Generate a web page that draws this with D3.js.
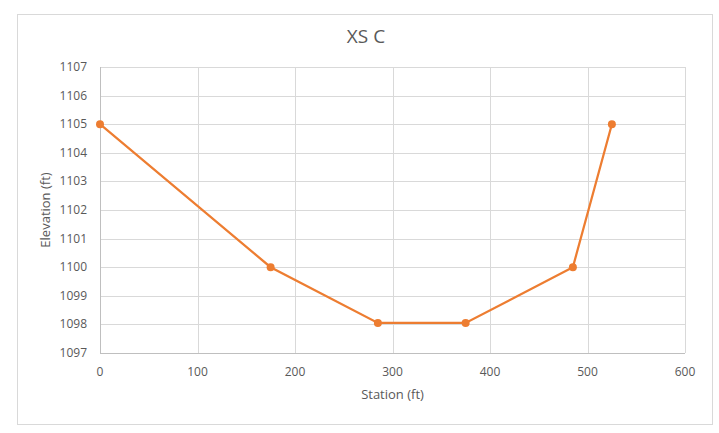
<!DOCTYPE html>
<html><head><meta charset="utf-8">
<script src="https://cdn.jsdelivr.net/npm/d3@7"></script>
<style>body{margin:0;background:#fff;} text{font-family:"Open Sans","Liberation Sans",sans-serif;}</style>
</head><body><svg id="c" width="719" height="433"></svg>
<script>
const stations = [0, 175, 285, 375, 485, 525];
const elevations = [1105, 1100, 1098.05, 1098.05, 1100, 1105];
const xTicks = [0, 100, 200, 300, 400, 500, 600];
const yTicks = [1097, 1098, 1099, 1100, 1101, 1102, 1103, 1104, 1105, 1106, 1107];
const title = "XS C", xLabel = "Station (ft)", yLabel = "Elevation (ft)";

const svg = d3.select("#c");
svg.append("rect").attr("x",17.5).attr("y",14.5).attr("width",695).attr("height",410)
  .attr("fill","#fff").attr("stroke","#d9d9d9");
const m = {l:100, r:685, t:67, b:353};
const x = d3.scaleLinear().domain([0,600]).range([m.l,m.r]);
const y = d3.scaleLinear().domain([1097,1107]).range([m.b,m.t]);

const g = svg.append("g");
g.selectAll(".hg").data(yTicks).join("line").attr("x1",m.l).attr("x2",m.r)
  .attr("y1",d=>Math.round(y(d))+0.5).attr("y2",d=>Math.round(y(d))+0.5).attr("stroke","#d9d9d9");
g.selectAll(".vg").data(xTicks).join("line").attr("y1",m.t).attr("y2",m.b)
  .attr("x1",d=>Math.round(x(d))+0.5).attr("x2",d=>Math.round(x(d))+0.5).attr("stroke","#d9d9d9");
g.append("line").attr("x1",m.l).attr("x2",m.r).attr("y1",Math.round(y(1097))+0.5).attr("y2",Math.round(y(1097))+0.5).attr("stroke","#bfbfbf");
g.append("line").attr("x1",Math.round(x(0))+0.5).attr("x2",Math.round(x(0))+0.5).attr("y1",m.t).attr("y2",m.b).attr("stroke","#bfbfbf");

g.selectAll(".xt").data(xTicks).join("text").attr("x",d=>x(d)).attr("y",m.b+23)
  .attr("text-anchor","middle").attr("font-size",12).attr("fill","#595959").text(d=>d);
g.selectAll(".yt").data(yTicks).join("text").attr("x",m.l-13).attr("y",d=>y(d)+4)
  .attr("text-anchor","end").attr("font-size",12).attr("fill","#595959").text(d=>d);

svg.append("text").attr("x",(m.l+m.r)/2).attr("y",399).attr("text-anchor","middle")
  .attr("font-size",13).attr("fill","#595959").text(xLabel);
svg.append("text").attr("transform",`translate(50,${(m.t+m.b)/2}) rotate(-90)`).attr("text-anchor","middle")
  .attr("font-size",13).attr("fill","#595959").text(yLabel);
svg.append("text").attr("x",366).attr("y",43).attr("text-anchor","middle")
  .attr("font-size",19).attr("fill","#595959").text(title);

const pts = stations.map((s,i)=>[s,elevations[i]]);
g.append("path").datum(pts).attr("fill","none").attr("stroke","#ed7d31").attr("stroke-width",2.25)
  .attr("d",d3.line().x(d=>x(d[0])).y(d=>y(d[1])));
g.selectAll(".pt").data(pts).join("circle").attr("cx",d=>x(d[0])).attr("cy",d=>y(d[1])).attr("r",4)
  .attr("fill","#ed7d31");
</script></body></html>
